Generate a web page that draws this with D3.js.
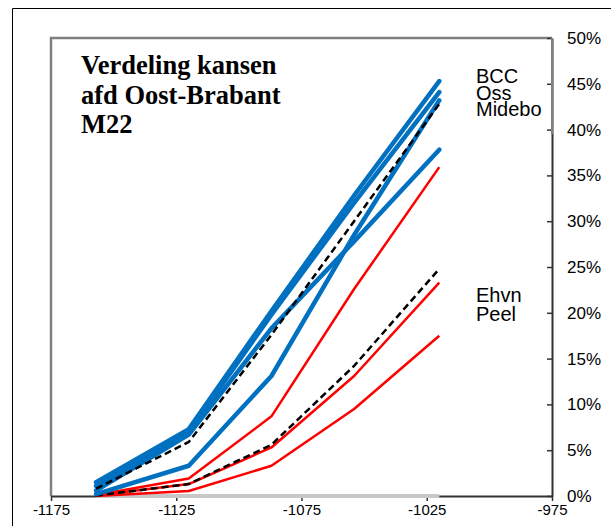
<!DOCTYPE html>
<html><head><meta charset="utf-8">
<script src="https://cdn.jsdelivr.net/npm/d3@7"></script>
<style>body{margin:0;background:#fff}svg{display:block}</style>
</head><body>
<script>
// ---- data ----
const xPoints = [-1157, -1120, -1087, -1054, -1020];
const blueSeries = [
  [0.015, 0.073, 0.202, 0.328, 0.453],
  [0.011, 0.070, 0.198, 0.320, 0.441],
  [0.002, 0.033, 0.131, 0.285, 0.432],
  [0.006, 0.067, 0.183, 0.278, 0.378]
];
const blueAvg = [0.008, 0.059, 0.176, 0.300, 0.428];
const redSeries = [
  [0.001, 0.019, 0.087, 0.226, 0.359],
  [0.0005, 0.013, 0.053, 0.131, 0.233],
  [0.0, 0.0055, 0.033, 0.095, 0.175]
];
const redAvg = [0.0005, 0.013, 0.056, 0.142, 0.248];
const zeroSeries = [0, 0, 0, 0, 0];
const xTicks = [-1175, -1125, -1075, -1025, -975];
const yTicks = [0, 0.05, 0.10, 0.15, 0.20, 0.25, 0.30, 0.35, 0.40, 0.45, 0.50];
const titleLines = ["Verdeling kansen", "afd Oost-Brabant", "M22"];
const upperLabels = ["BCC", "Oss", "Midebo"];
const lowerLabels = ["Ehvn", "Peel"];

// ---- layout ----
const W = 611, H = 526;
const L = 51, R = 552, T = 38, B = 496;
const svg = d3.select("body").append("svg").attr("width", W).attr("height", H);

// outer frame
svg.append("path").attr("d", `M12.5,${H}V8.5H${W}`).attr("fill","none").attr("stroke","#000").attr("stroke-width",1);

const x = d3.scaleLinear().domain([-1175, -975]).range([L, R]);
const y = d3.scaleLinear().domain([0, 0.5]).range([B, T]);

// plot border (top & left gray)
svg.append("path").attr("d", `M${L},${B}V${T}H${R}`).attr("fill","none").attr("stroke","#808080").attr("stroke-width",2.5);

const line = d3.line().x((d,i)=>x(xPoints[i])).y(d=>y(d));

// bottom axis
const xAxis = svg.append("g").attr("transform",`translate(0,${B})`)
  .call(d3.axisBottom(x).tickValues(xTicks).tickSize(5).tickSizeOuter(0).tickFormat(d => String(d)));
xAxis.select(".domain").attr("stroke","#333").attr("stroke-width",2);
xAxis.selectAll(".tick line").attr("stroke","#333").attr("stroke-width",1.5);
xAxis.selectAll("text").attr("font-family","Liberation Sans, Arial, sans-serif").attr("font-size",15).attr("fill","#000").attr("dy","0.95em").attr("y",5);

// right axis
const yAxis = svg.append("g").attr("transform",`translate(${R},0)`)
  .call(d3.axisRight(y).tickValues(yTicks).tickSize(0).tickSizeOuter(0).tickFormat(d3.format(".0%")));
yAxis.select(".domain").attr("stroke","#333").attr("stroke-width",2);
yAxis.append("line").attr("x1",0).attr("x2",0).attr("y1",y(0.5)).attr("y2",y(0.395)).attr("stroke","#808080").attr("stroke-width",2);
yAxis.selectAll(".tick line").remove();
yAxis.selectAll(".tick").append("line").attr("x1",-5).attr("x2",0).attr("stroke","#333").attr("stroke-width",1.5);
yAxis.selectAll("text").attr("x",15).attr("font-family","Liberation Sans, Arial, sans-serif").attr("font-size",17).attr("fill","#000");

// zero series (gray)
svg.append("path").datum(zeroSeries).attr("d",line).attr("fill","none").attr("stroke","#c8c8c8").attr("stroke-width",4);

// red lines
redSeries.forEach(s=>{
  svg.append("path").datum(s).attr("d",line).attr("fill","none").attr("stroke","#ff0000").attr("stroke-width",2.5).attr("stroke-linejoin","round");
});
svg.append("path").datum(redAvg).attr("d",line).attr("fill","none").attr("stroke","#000").attr("stroke-width",2.5).attr("stroke-dasharray","7,4");

// blue lines
blueSeries.forEach(s=>{
  svg.append("path").datum(s).attr("d",line).attr("fill","none").attr("stroke","#0070c0").attr("stroke-width",4.5).attr("stroke-linejoin","round").attr("stroke-linecap","round");
});
svg.append("path").datum(blueAvg).attr("d",line).attr("fill","none").attr("stroke","#000").attr("stroke-width",2.5).attr("stroke-dasharray","7,4");

// title
const title = svg.append("text").attr("x",81).attr("y",74)
  .attr("font-family","Liberation Serif, Times New Roman, serif").attr("font-weight","bold").attr("font-size",26.5).attr("fill","#000");
titleLines.forEach((t,i)=>title.append("tspan").attr("x",81).attr("dy",i?29.5:0).text(t));

// labels
const lab = svg.append("text").attr("x",476).attr("y",83).attr("font-family","Liberation Sans, Arial, sans-serif").attr("font-size",20).attr("fill","#000");
upperLabels.forEach((t,i)=>lab.append("tspan").attr("x",476).attr("dy",i?16.5:0).text(t));
const lab2 = svg.append("text").attr("x",476).attr("y",302).attr("font-family","Liberation Sans, Arial, sans-serif").attr("font-size",20).attr("fill","#000");
lowerLabels.forEach((t,i)=>lab2.append("tspan").attr("x",476).attr("dy",i?19:0).text(t));
</script>
</body></html>
